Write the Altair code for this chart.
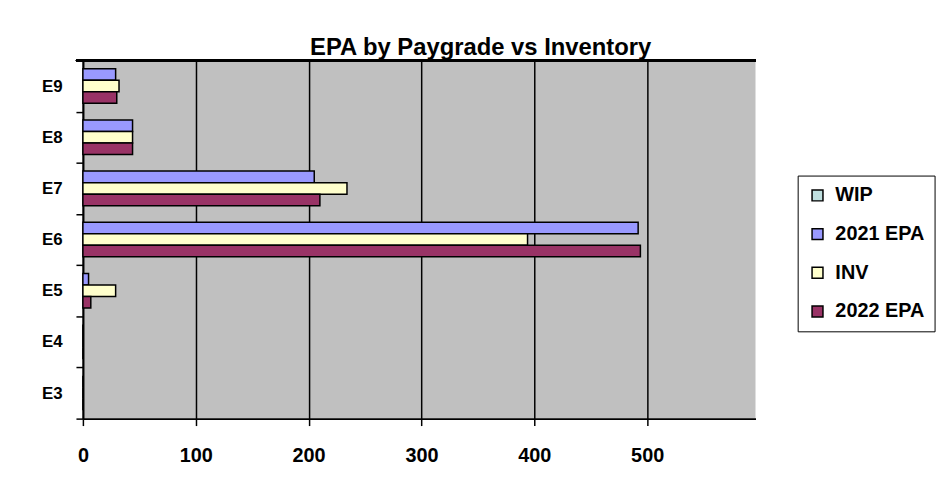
import altair as alt
import pandas as pd

categories = ["E9", "E8", "E7", "E6", "E5", "E4", "E3"]
series = ["WIP", "2021 EPA", "INV", "2022 EPA"]
colors = ["#BFDFDF", "#9999FF", "#FFFFCC", "#993366"]
epa2021 = [29, 44, 205, 492, 5, 0, 0]
inv = [32, 44, 234, 394, 29, 0, 0]
epa2022 = [30, 44, 210, 494, 7, 0, 0]
x_ticks = [0, 100, 200, 300, 400, 500]
title_text = "EPA by Paygrade vs Inventory"

rows = []
for name, vals in [("2021 EPA", epa2021), ("INV", inv), ("2022 EPA", epa2022)]:
    for c, v in zip(categories, vals):
        rows.append({"grade": c, "series": name, "value": v})
df = pd.DataFrame(rows)

W, H = 678, 361
FONT = "Liberation Sans"

bars = alt.Chart(df).mark_bar(stroke="black", strokeWidth=1.5).encode(
    x=alt.X("value:Q",
            scale=alt.Scale(domain=[0, 596], nice=False, zero=True),
            axis=alt.Axis(values=x_ticks, title=None, grid=True, gridColor="black",
                          gridWidth=1.5, gridOpacity=1, domainColor="black", domainWidth=2,
                          tickColor="black", tickWidth=1.5, tickSize=7,
                          labelFont=FONT, labelFontSize=20, labelFontWeight="bold",
                          labelColor="black", labelPadding=20, labelFlush=False)),
    y=alt.Y("grade:N", sort=categories,
            scale=alt.Scale(paddingInner=0, paddingOuter=0),
            axis=alt.Axis(title=None, grid=False, domainColor="black", domainWidth=2,
                          tickColor="black", tickWidth=1.5, tickSize=7, tickBand="extent",
                          labelFont=FONT, labelFontSize=17, labelFontWeight="bold",
                          labelColor="black", labelPadding=14)),
    yOffset=alt.YOffset("series:N", sort=["2021 EPA", "INV", "2022 EPA"],
                        scale=alt.Scale(domain=["2021 EPA", "INV", "2022 EPA"],
                                        paddingInner=0, paddingOuter=0.72)),
    color=alt.Color("series:N",
                    scale=alt.Scale(domain=series, range=colors),
                    legend=alt.Legend(title=None, orient="none", legendX=720.5, legendY=116,
                                      symbolType="square", symbolSize=121,
                                      symbolStrokeColor="black", symbolStrokeWidth=1.5,
                                      symbolOpacity=1,
                                      labelFont=FONT, labelFontSize=20, labelFontWeight="bold",
                                      labelColor="black", rowPadding=19, padding=10,
                                      strokeColor="black", fillColor="white",
                                      labelOffset=8)),
)

topline = alt.Chart(df).mark_rule(color="black", strokeWidth=2).encode(
    x=alt.value(-7), x2=alt.value(W), y=alt.value(0)
)

title = alt.Chart(pd.DataFrame({"t": [title_text]})).mark_text(
    font=FONT, fontSize=24, fontWeight="bold", color="black",
    align="left", baseline="alphabetic"
).encode(text="t:N", x=alt.value(229), y=alt.value(-6))

chart = alt.layer(bars, topline, title).properties(
    width=W, height=H,
    background="white",
    autosize=alt.AutoSizeParams(type="none"),
    padding={"left": 75.5, "top": 51, "right": 190, "bottom": 66},
).configure_view(fill="#C0C0C0", stroke=None)

chart.save("out.html", embed_options={"renderer": "svg", "actions": False})
